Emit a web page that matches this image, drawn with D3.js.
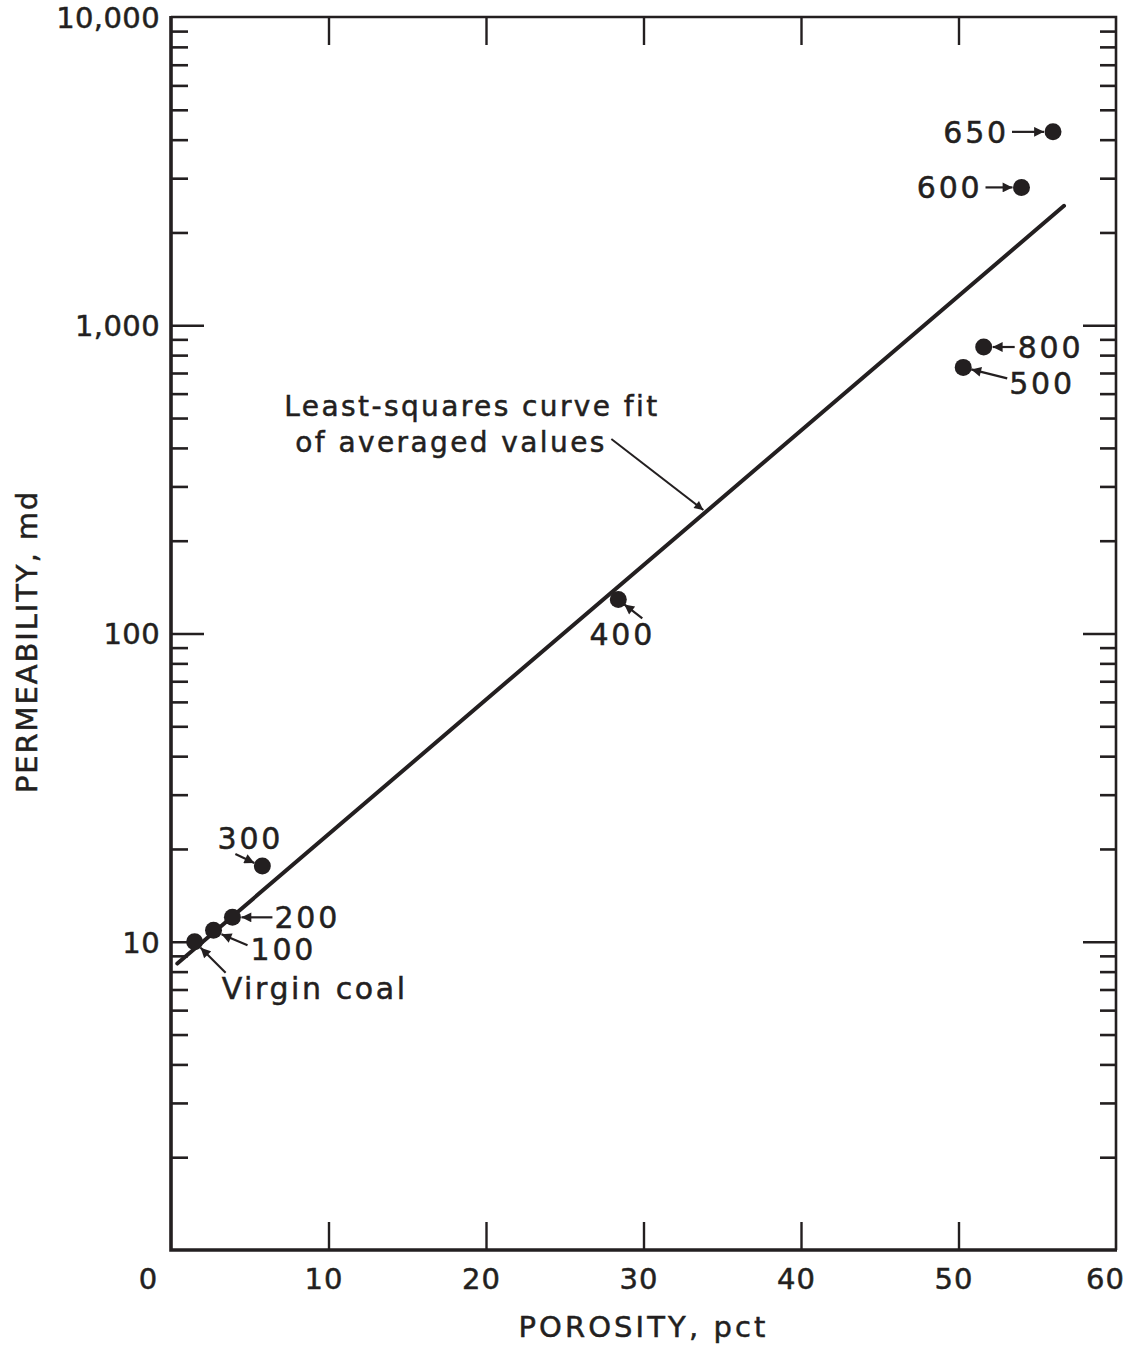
<!DOCTYPE html>
<html>
<head>
<meta charset="utf-8">
<script src="https://cdn.jsdelivr.net/npm/d3@7"></script>
<style>
  html, body { margin: 0; padding: 0; background: #fff; }
  svg { display: block; }
  text { font-family: "DejaVu Sans", "Noto Sans", sans-serif; fill: #231f20; stroke: #231f20; stroke-width: 0.5px; }
</style>
</head>
<body>
<svg id="chart" width="1137" height="1350"></svg>
<script>
// Porosity (pct) and permeability (md) of coal samples, labelled by treatment temperature
const pointLabels = ["Virgin coal", "100", "200", "300", "400", "500", "800", "600", "650"];
const porosity     = [1.5, 2.7, 3.9, 5.8, 28.4, 50.3, 51.6, 54.0, 56.0];
const permeability = [10, 10.9, 12, 17.6, 129, 730, 850, 2800, 4240];

// End points of the least-squares fit (straight line on the semi-log grid)
const fitPorosity     = [0.4, 56.7];
const fitPermeability = [8.5, 2440];

// Axis ticks
const xTicks = [0, 10, 20, 30, 40, 50, 60];
const yDecades = [10, 100, 1000, 10000];
const yMinor = [2, 3, 4, 5, 6, 7, 8, 9, 20, 30, 40, 50, 60, 70, 80, 90,
                200, 300, 400, 500, 600, 700, 800, 900,
                2000, 3000, 4000, 5000, 6000, 7000, 8000, 9000];

const fitText = ["Least-squares curve fit", "of averaged values"];
const xTitle = "POROSITY, pct";
const yTitle = "PERMEABILITY, md";

const ink = "#231f20";
const plotL = 171, plotR = 1116, plotT = 17, plotB = 1250;

const svg = d3.select("#chart");
const x = d3.scaleLinear().domain([0, 60]).range([plotL, plotR]);
const y = d3.scaleLog().domain([1, 10000]).range([plotB, plotT]);

// arrowhead marker
svg.append("defs").append("marker")
  .attr("id", "head")
  .attr("viewBox", "0 0 10 10")
  .attr("refX", 10).attr("refY", 5)
  .attr("markerWidth", 5.5).attr("markerHeight", 4.5)
  .attr("markerUnits", "strokeWidth")
  .attr("orient", "auto")
  .append("path").attr("d", "M0,0 L10,5 L0,10 Z").attr("fill", ink);

// ---------- axes ----------
const yAll = yMinor.concat(yDecades).sort((a, b) => a - b);
const isMajor = d => yDecades.includes(d);

function styleAxis(g, width) {
  g.select(".domain").remove();
  g.selectAll(".tick line").attr("stroke", ink).attr("stroke-width", width);
}

// left axis: ticks point inward, decade labels outside
const gLeft = svg.append("g")
  .attr("transform", `translate(${plotL},0)`)
  .call(d3.axisLeft(y).tickValues(yAll).tickSizeInner(-17).tickSizeOuter(0).tickPadding(11)
    .tickFormat(d => isMajor(d) ? d3.format(",")(d) : ""));
styleAxis(gLeft, 2.6);
gLeft.selectAll(".tick line").filter(d => isMajor(d)).attr("x2", 33);
gLeft.selectAll(".tick").filter(d => d === 10000).select("line").remove();
gLeft.selectAll(".tick text")
  .attr("font-size", 29).attr("font-family", "DejaVu Sans").attr("fill", ink)
  .attr("letter-spacing", 0.4)
  .attr("dy", "0.36em");

// right axis: inward ticks, no labels
const gRight = svg.append("g")
  .attr("transform", `translate(${plotR},0)`)
  .call(d3.axisRight(y).tickValues(yAll.filter(d => d < 10000)).tickSizeInner(-16).tickSizeOuter(0).tickFormat(""));
styleAxis(gRight, 2.6);
gRight.selectAll(".tick line").filter(d => isMajor(d)).attr("x2", -33);

// top axis: inward ticks only
const gTop = svg.append("g")
  .attr("transform", `translate(0,${plotT})`)
  .call(d3.axisTop(x).tickValues(xTicks.slice(1, -1)).tickSizeInner(-28).tickSizeOuter(0).tickFormat(""));
styleAxis(gTop, 2.4);

// bottom axis: inward ticks, labels below
const gBottom = svg.append("g")
  .attr("transform", `translate(0,${plotB})`)
  .call(d3.axisBottom(x).tickValues(xTicks).tickSizeInner(-28).tickSizeOuter(0).tickPadding(18));
styleAxis(gBottom, 2.4);
gBottom.selectAll(".tick").filter(d => d === 0 || d === 60).select("line").remove();
gBottom.selectAll(".tick text")
  .attr("font-size", 29).attr("font-family", "DejaVu Sans").attr("fill", ink)
  .attr("letter-spacing", 1)
  .attr("dx", d => d === 0 ? -23 : d === 60 ? -11 : -5);

// frame: heavier left/bottom, lighter top/right
svg.append("path")
  .attr("d", `M${plotL},${plotT} H${plotR} V${plotB}`)
  .attr("fill", "none").attr("stroke", ink).attr("stroke-width", 2.6);
svg.append("path")
  .attr("d", `M${plotL},${plotT - 1} V${plotB} H${plotR + 1}`)
  .attr("fill", "none").attr("stroke", ink).attr("stroke-width", 3.6);

// ---------- fit line ----------
const line = d3.line().x(d => x(d[0])).y(d => y(d[1]));
svg.append("path")
  .datum(d3.zip(fitPorosity, fitPermeability))
  .attr("d", line)
  .attr("fill", "none").attr("stroke", ink).attr("stroke-width", 4).attr("stroke-linecap", "round");

// fit annotation with leader arrow to the line
const fitAt = p => {
  const t = (p - fitPorosity[0]) / (fitPorosity[1] - fitPorosity[0]);
  const l0 = Math.log10(fitPermeability[0]), l1 = Math.log10(fitPermeability[1]);
  return Math.pow(10, l0 + t * (l1 - l0));
};
const leaderP = 33.8;
const tipX = x(leaderP), tipY = y(fitAt(leaderP)) - 4;
svg.append("line")
  .attr("x1", tipX - 92).attr("y1", tipY - 71)
  .attr("x2", tipX).attr("y2", tipY)
  .attr("stroke", ink).attr("stroke-width", 2).attr("marker-end", "url(#head)");
svg.append("g").selectAll("text").data(fitText).join("text")
  .attr("x", (d, i) => tipX - 419 + i * 11)
  .attr("y", (d, i) => tipY - 104 + i * 36)
  .attr("dy", "0.36em")
  .attr("font-size", 28).attr("letter-spacing", 2.4)
  .text(d => d);

// ---------- points and their labels ----------
// label placement and arrow geometry, in pixels relative to each dot
const labelLayout = {
  "Virgin coal": { tx: 27, ty: 46, anchor: "start", a: [31, 31, 6, 6] },
  "100": { tx: 37, ty: 19, anchor: "start", a: [34, 15, 8, 4] },
  "200": { tx: 42, ty: 0, anchor: "start", a: [40, 0, 9, 0] },
  "300": { tx: -12, ty: -28, anchor: "middle", a: [-27, -12, -8, -3] },
  "400": { tx: 4, ty: 35, anchor: "middle", a: [24, 19, 6, 5] },
  "500": { tx: 46, ty: 16, anchor: "start", a: [44, 11, 8, 2] },
  "800": { tx: 34, ty: 0, anchor: "start", a: [31, 0, 9, 0] },
  "600": { tx: -39, ty: 0, anchor: "end", a: [-36, 0, -9, 0] },
  "650": { tx: -44, ty: 0, anchor: "end", a: [-41, 0, -9, 0] }
};

const pts = pointLabels.map((lab, i) => ({ lab, px: x(porosity[i]), py: y(permeability[i]) }));

svg.append("g").selectAll("line").data(pts).join("line")
  .attr("x1", d => d.px + labelLayout[d.lab].a[0])
  .attr("y1", d => d.py + labelLayout[d.lab].a[1])
  .attr("x2", d => d.px + labelLayout[d.lab].a[2])
  .attr("y2", d => d.py + labelLayout[d.lab].a[3])
  .attr("stroke", ink).attr("stroke-width", 2.2).attr("marker-end", "url(#head)");

svg.append("g").selectAll("circle").data(pts).join("circle")
  .attr("cx", d => d.px).attr("cy", d => d.py).attr("r", 8.5)
  .attr("fill", ink);

svg.append("g").selectAll("text").data(pts).join("text")
  .attr("x", d => d.px + labelLayout[d.lab].tx)
  .attr("y", d => d.py + labelLayout[d.lab].ty)
  .attr("dy", "0.36em")
  .attr("text-anchor", d => labelLayout[d.lab].anchor)
  .attr("font-size", 30).attr("letter-spacing", d => d.lab === "Virgin coal" ? 2.6 : 2.8)
  .text(d => d.lab);

// ---------- axis titles ----------
svg.append("text")
  .attr("x", (plotL + plotR) / 2).attr("y", 1337)
  .attr("text-anchor", "middle")
  .attr("font-size", 29).attr("letter-spacing", 3.1)
  .text(xTitle);

svg.append("text")
  .attr("transform", `translate(37,${(plotT + plotB) / 2 + 8}) rotate(-90)`)
  .attr("text-anchor", "middle")
  .attr("font-size", 29).attr("letter-spacing", 1.9)
  .text(yTitle);
</script>
</body>
</html>
